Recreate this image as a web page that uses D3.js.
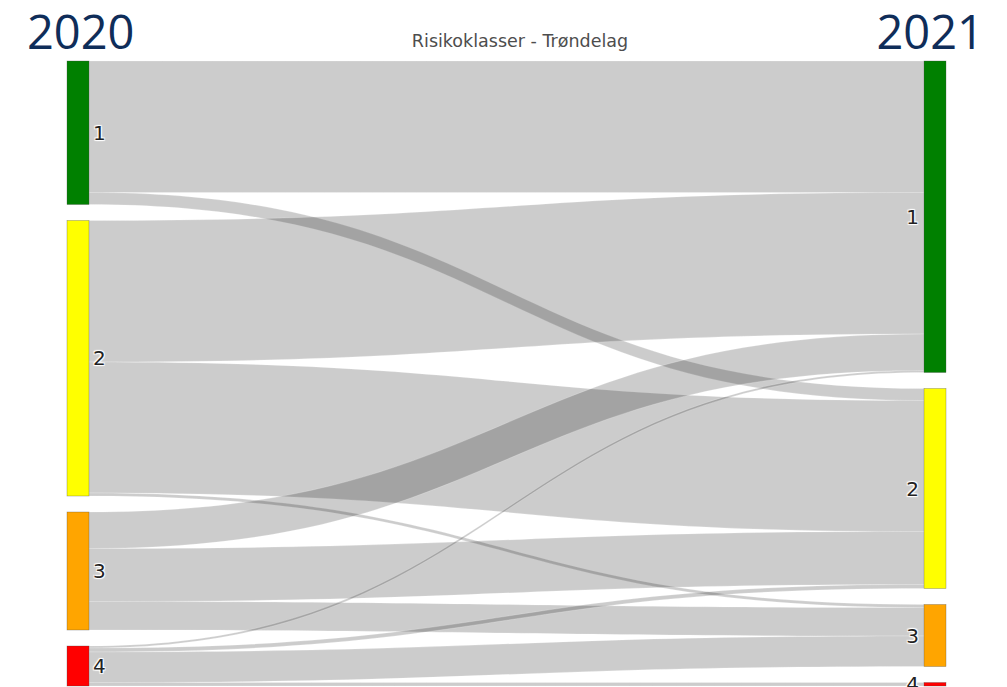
<!DOCTYPE html>
<html>
<head>
<meta charset="utf-8">
<script src="https://cdn.jsdelivr.net/npm/d3@7"></script>
<style>
  html, body { margin: 0; padding: 0; background: #fff; }
  svg { display: block; }
  .node-label { text-shadow: 1px 1px 1px #fff, -1px -1px 1px #fff, 1px -1px 1px #fff, -1px 1px 1px #fff; }
</style>
</head>
<body>
<svg id="chart" width="1007" height="687"></svg>
<script>
// ---- data ----
const classes = ["1", "2", "3", "4"];
const years = ["2020", "2021"];
const classColors = ["#008000", "#ffff00", "#ffa500", "#ff0000"];
const chartTitle = "Risikoklasser - Trøndelag";
// flows from class in 2020 (source) to class in 2021 (target)
const flowSource = [0, 0, 1, 1, 1, 2, 2, 2, 3, 3, 3, 3];
const flowTarget = [0, 1, 0, 1, 2, 0, 1, 2, 0, 1, 2, 3];
const flowValue  = [131.5, 12, 141.5, 131, 3, 36.5, 53, 28.5, 2, 4, 30.5, 3.5];

// ---- layout ----
const plotTop = 61, plotBottom = 686, nodePad = 16, nodeW = 22;
const svg = d3.select("#chart");

const links = flowValue.map((v, i) => ({ s: flowSource[i], t: flowTarget[i], value: v }));
const total = d3.sum(flowValue);
const k = d3.scaleLinear().domain([0, total]).range([0, (plotBottom - plotTop) - nodePad * (classes.length - 1)]);
const xCol = d3.scaleLinear().domain([0, 1]).range([67, 924]);

function buildColumn(col) {
  let y = plotTop;
  return classes.map((c, i) => {
    const val = d3.sum(links.filter(l => (col === 0 ? l.s : l.t) === i), l => l.value);
    const h = k(val);
    const n = { name: c, i, col, x0: xCol(col), x1: xCol(col) + nodeW, y0: y, y1: y + h, value: val };
    y += h + nodePad;
    return n;
  });
}
const leftNodes = buildColumn(0);
const rightNodes = buildColumn(1);

leftNodes.forEach(n => {
  let y = n.y0;
  links.filter(l => l.s === n.i).sort((a, b) => a.t - b.t).forEach(l => { l.sy = y; l.w = k(l.value); y += l.w; });
});
rightNodes.forEach(n => {
  let y = n.y0;
  links.filter(l => l.t === n.i).sort((a, b) => a.s - b.s).forEach(l => { l.ty = y; y += k(l.value); });
});

function linkPath(l) {
  const x0 = xCol(0) + nodeW, x1 = xCol(1);
  const xm = (x0 + x1) / 2;
  const p = d3.path();
  p.moveTo(x0, l.sy);
  p.bezierCurveTo(xm, l.sy, xm, l.ty, x1, l.ty);
  p.lineTo(x1, l.ty + l.w);
  p.bezierCurveTo(xm, l.ty + l.w, xm, l.sy + l.w, x0, l.sy + l.w);
  p.closePath();
  return p.toString();
}

svg.append("g").selectAll("path").data(links).join("path")
  .attr("d", linkPath)
  .attr("fill", "rgba(0,0,0,0.2)")
  .attr("stroke", "#fff")
  .attr("stroke-opacity", 0.4)
  .attr("stroke-width", 0.5);

const nodes = leftNodes.concat(rightNodes);
svg.append("g").selectAll("rect").data(nodes).join("rect")
  .attr("x", d => d.x0).attr("y", d => d.y0)
  .attr("width", nodeW).attr("height", d => Math.max(0.5, d.y1 - d.y0))
  .attr("fill", d => classColors[d.i])
  .attr("stroke", "#444").attr("stroke-opacity", 0.6).attr("stroke-width", 0.5);

svg.append("g").selectAll("text").data(nodes).join("text")
  .attr("class", "node-label")
  .attr("x", d => d.col === 0 ? d.x1 + 4 : d.x0 - 5)
  .attr("y", d => (d.y0 + d.y1) / 2)
  .attr("dy", "0.36em")
  .attr("text-anchor", d => d.col === 0 ? "start" : "end")
  .attr("font-family", "DejaVu Sans, Verdana, sans-serif")
  .attr("font-size", 20)
  .attr("fill", "#222")
  .text(d => d.name);

svg.append("text")
  .attr("x", 520).attr("y", 47)
  .attr("text-anchor", "middle")
  .attr("font-family", "DejaVu Sans, Verdana, sans-serif")
  .attr("font-size", 17.5)
  .attr("fill", "#4d4d4d")
  .text(chartTitle);

svg.append("text")
  .attr("x", 27).attr("y", 49)
  .attr("font-family", "Open Sans, sans-serif")
  .attr("font-size", 47)
  .attr("fill", "#0f2d59")
  .text(years[0]);

svg.append("text")
  .attr("x", 984).attr("y", 49)
  .attr("text-anchor", "end")
  .attr("font-family", "Open Sans, sans-serif")
  .attr("font-size", 47)
  .attr("fill", "#0f2d59")
  .text(years[1]);
</script>
</body>
</html>
